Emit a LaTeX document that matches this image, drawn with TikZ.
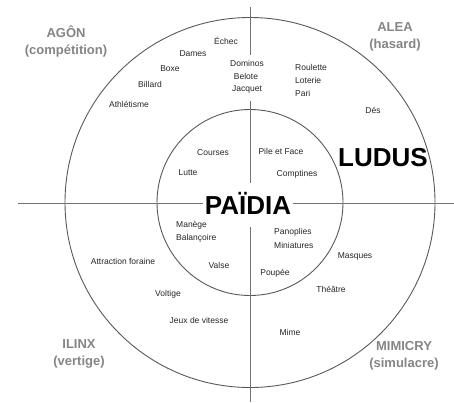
\documentclass[tikz,border=0pt]{standalone}
\usepackage{fontspec}
\setmainfont{Liberation Sans}
\begin{document}
\begin{tikzpicture}[x=1pt,y=-1pt,
  ring/.style={draw=black!65,line width=0.9pt},
  axis/.style={draw=black!55,line width=1pt},
  lbl/.style={inner sep=0pt,font=\fontsize{8.5}{9}\selectfont,text=black!85},
  cat/.style={inner sep=0pt,font=\fontsize{13}{14}\selectfont\bfseries,text=black!48,align=center},
  big/.style={inner sep=0pt,font=\fontsize{26}{27}\selectfont\bfseries,text=black}]
\useasboundingbox (0,0) rectangle (454,402);
\coordinate (c) at (250,202.5);
% circles
\draw[ring] (c) circle[radius=185];
\draw[ring] (c) circle[radius=93];
% axes with gaps
\coordinate (vtop) at (250,7);
\coordinate (vg1) at (250,55);
\coordinate (vg2) at (250,101);
\coordinate (vg3) at (250,183);
\coordinate (vg4) at (250,227);
\coordinate (vbot) at (250,402);
\coordinate (hl) at (18,203);
\coordinate (hg1) at (203,203);
\coordinate (hg2) at (293,203);
\coordinate (hr) at (454,203);
\draw[axis] (vtop) -- (vg1);
\draw[axis] (vg2) -- (vg3);
\draw[axis] (vg4) -- (vbot);
\draw[axis] (hl) -- (hg1);
\draw[axis] (hg2) -- (hr);
% categories
\node[cat] (agon) at (66,42) {AGÔN\\[3pt](compétition)};
\node[cat] (alea) at (395,37) {ALEA\\[3pt](hasard)};
\node[cat] (ilinx) at (79,354) {ILINX\\[3pt](vertige)};
\node[cat] (mimicry) at (404,356) {MIMICRY\\[3pt](simulacre)};
% big
\node[big] (ludus) at (383,157.5) {LUDUS};
\node[big] (paidia) at (248,203) {PAÏDIA};
% agon
\node[lbl] (echec) at (226,41) {Échec};
\node[lbl] (dames) at (193,54) {Dames};
\node[lbl] (boxe) at (170,69) {Boxe};
\node[lbl] (billard) at (150,84) {Billard};
\node[lbl] (athl) at (129,104) {Athlétisme};
\node[lbl] (courses) at (213,153) {Courses};
\node[lbl] (lutte) at (188,173) {Lutte};
% alea
\node[lbl] (dominos) at (247,63) {Dominos};
\node[lbl] (belote) at (246,76) {Belote};
\node[lbl] (jacquet) at (247,89) {Jacquet};
\node[lbl,anchor=west] (roulette) at (295,67) {Roulette};
\node[lbl,anchor=west] (loterie) at (295,80) {Loterie};
\node[lbl,anchor=west] (pari) at (295,93) {Pari};
\node[lbl] (des) at (373,110) {Dés};
\node[lbl] (pile) at (281,151) {Pile et Face};
\node[lbl] (comptines) at (297,174) {Comptines};
% ilinx
\node[lbl,anchor=west] (manege) at (176,225) {Manège};
\node[lbl,anchor=west] (balancoire) at (176,238) {Balançoire};
\node[lbl] (valse) at (219,265) {Valse};
\node[lbl] (attraction) at (123,261) {Attraction foraine};
\node[lbl] (voltige) at (168,294) {Voltige};
\node[lbl] (jeux) at (199,320) {Jeux de vitesse};
% mimicry
\node[lbl,anchor=west] (panoplies) at (274,232) {Panoplies};
\node[lbl,anchor=west] (miniatures) at (274,245) {Miniatures};
\node[lbl] (masques) at (355,256) {Masques};
\node[lbl] (poupee) at (275,273) {Poupée};
\node[lbl] (theatre) at (331,289) {Théâtre};
\node[lbl] (mime) at (290,332) {Mime};
\end{tikzpicture}
\end{document}
